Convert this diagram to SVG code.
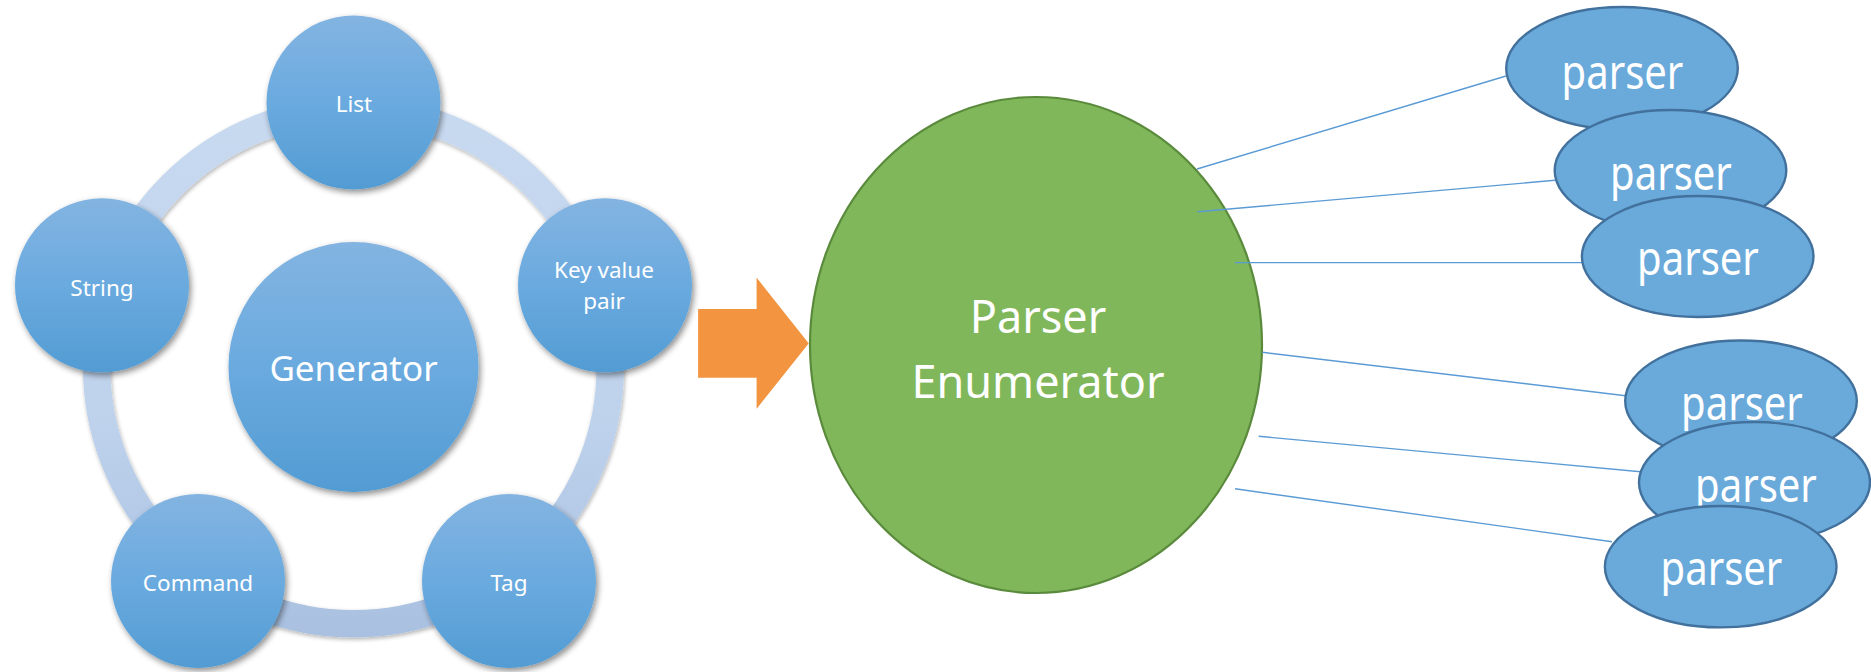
<svg xmlns="http://www.w3.org/2000/svg" width="1871" height="672" viewBox="0 0 1871 672">
  <defs>
    <linearGradient id="ballFill" x1="0" y1="0" x2="0" y2="1">
      <stop offset="0" stop-color="#83B4E1"/>
      <stop offset="0.5" stop-color="#6AAADF"/>
      <stop offset="1" stop-color="#529CD3"/>
    </linearGradient>
    <linearGradient id="ringFill" gradientUnits="userSpaceOnUse" x1="0" y1="96" x2="0" y2="638">
      <stop offset="0" stop-color="#C8DAF0"/>
      <stop offset="0.6" stop-color="#BED2EC"/>
      <stop offset="1" stop-color="#A9C0E0"/>
    </linearGradient>
    <filter id="softShadow" x="-20%" y="-20%" width="145%" height="145%">
      <feGaussianBlur in="SourceAlpha" stdDeviation="3"/>
      <feOffset dx="2" dy="3" result="blur"/>
      <feComponentTransfer><feFuncA type="linear" slope="0.45"/></feComponentTransfer>
      <feMerge><feMergeNode/><feMergeNode in="SourceGraphic"/></feMerge>
    </filter>
    <filter id="ringShadow" x="-10%" y="-10%" width="125%" height="125%">
      <feGaussianBlur in="SourceAlpha" stdDeviation="2"/>
      <feOffset dx="1" dy="2" result="blur"/>
      <feComponentTransfer><feFuncA type="linear" slope="0.3"/></feComponentTransfer>
      <feMerge><feMergeNode/><feMergeNode in="SourceGraphic"/></feMerge>
    </filter>
    <style>
      .ball { fill: url(#ballFill); filter: url(#softShadow); }
      .lbl { font-family: "Noto Sans", "Open Sans", sans-serif; fill: #FFFFFF; text-anchor: middle; }
      .small { font-size: 22.5px; }
      .parser { fill: #6AAADB; stroke: #41719C; stroke-width: 2.4; }
      .plbl { font-size: 40px; }
      .link { stroke: #5B9BD5; stroke-width: 1.4; fill: none; }
    </style>
  </defs>

  <rect width="1871" height="672" fill="#FFFFFF"/>

  <!-- cycle ring behind the generator satellites -->
  <g id="ring">
    <circle cx="353.5" cy="367" r="256.8" fill="none" stroke="url(#ringFill)" stroke-width="27.5" filter="url(#ringShadow)"/>
  </g>

  <g id="generator">
    <circle class="ball" cx="353.5" cy="367" r="125"/>
    <text class="lbl" x="353.5" y="380.5" font-size="35">Generator</text>
  </g>

  <g id="list">
    <circle class="ball" cx="353.5" cy="102.5" r="87"/>
    <text class="lbl small" x="354" y="112">List</text>
  </g>

  <g id="key-value-pair">
    <circle class="ball" cx="605" cy="285.3" r="87"/>
    <text class="lbl small" x="604" y="278">Key value</text>
    <text class="lbl small" x="604" y="309">pair</text>
  </g>

  <g id="string">
    <circle class="ball" cx="102" cy="285.3" r="87"/>
    <text class="lbl small" x="102" y="295.5">String</text>
  </g>

  <g id="command">
    <circle class="ball" cx="198" cy="581" r="87"/>
    <text class="lbl small" x="198" y="590.5">Command</text>
  </g>

  <g id="tag">
    <circle class="ball" cx="509" cy="581" r="87"/>
    <text class="lbl small" x="509" y="591">Tag</text>
  </g>

  <!-- block arrow from the generator cycle to the enumerator -->
  <g id="flow-arrow">
    <polygon points="697.5,308.5 756,308.5 756,276 809.5,343.3 756,410.5 756,378.3 697.5,378.3" fill="#F29440" stroke="#FFFFFF" stroke-width="1.2" stroke-linejoin="miter"/>
  </g>

  <g id="parser-enumerator">
    <ellipse cx="1036" cy="345" rx="226" ry="248" fill="#81B75B" stroke="#5A8A3C" stroke-width="2.2"/>
    <text class="lbl" x="1038" y="333" font-size="45">Parser</text>
    <text class="lbl" x="1038" y="397.5" font-size="45">Enumerator</text>
  </g>

  <g id="connectors">
    <line class="link" x1="1197" y1="169" x2="1506" y2="76"/>
    <line class="link" x1="1197.5" y1="211.8" x2="1555" y2="180.3"/>
    <line class="link" x1="1235" y1="262.6" x2="1582.5" y2="262.6"/>
    <line class="link" x1="1262.5" y1="352.3" x2="1625.5" y2="395.7"/>
    <line class="link" x1="1258.7" y1="436.3" x2="1640.5" y2="471.7"/>
    <line class="link" x1="1235" y1="488.8" x2="1612" y2="541.7"/>
  </g>

  <g id="parser-1">
    <ellipse class="parser" cx="1622" cy="68.3" rx="115.8" ry="61.3"/>
    <text class="lbl plbl" transform="translate(1622.5 89) scale(1 1.2)">parser</text>
  </g>
  <g id="parser-2">
    <ellipse class="parser" cx="1670.5" cy="170.5" rx="115.8" ry="60.5"/>
    <text class="lbl plbl" transform="translate(1671 190) scale(1 1.2)">parser</text>
  </g>
  <g id="parser-3">
    <ellipse class="parser" cx="1697.7" cy="256.5" rx="115.8" ry="60.5"/>
    <text class="lbl plbl" transform="translate(1698 275) scale(1 1.2)">parser</text>
  </g>
  <g id="parser-4">
    <ellipse class="parser" cx="1741" cy="401" rx="115.8" ry="60.5"/>
    <text class="lbl plbl" transform="translate(1742 420) scale(1 1.2)">parser</text>
  </g>
  <g id="parser-5">
    <ellipse class="parser" cx="1754.5" cy="482.5" rx="115.5" ry="60.5"/>
    <text class="lbl plbl" transform="translate(1756 501.7) scale(1 1.2)">parser</text>
  </g>
  <g id="parser-6">
    <ellipse class="parser" cx="1720.7" cy="566.7" rx="115.8" ry="60.7"/>
    <text class="lbl plbl" transform="translate(1721.5 585) scale(1 1.2)">parser</text>
  </g>
</svg>
